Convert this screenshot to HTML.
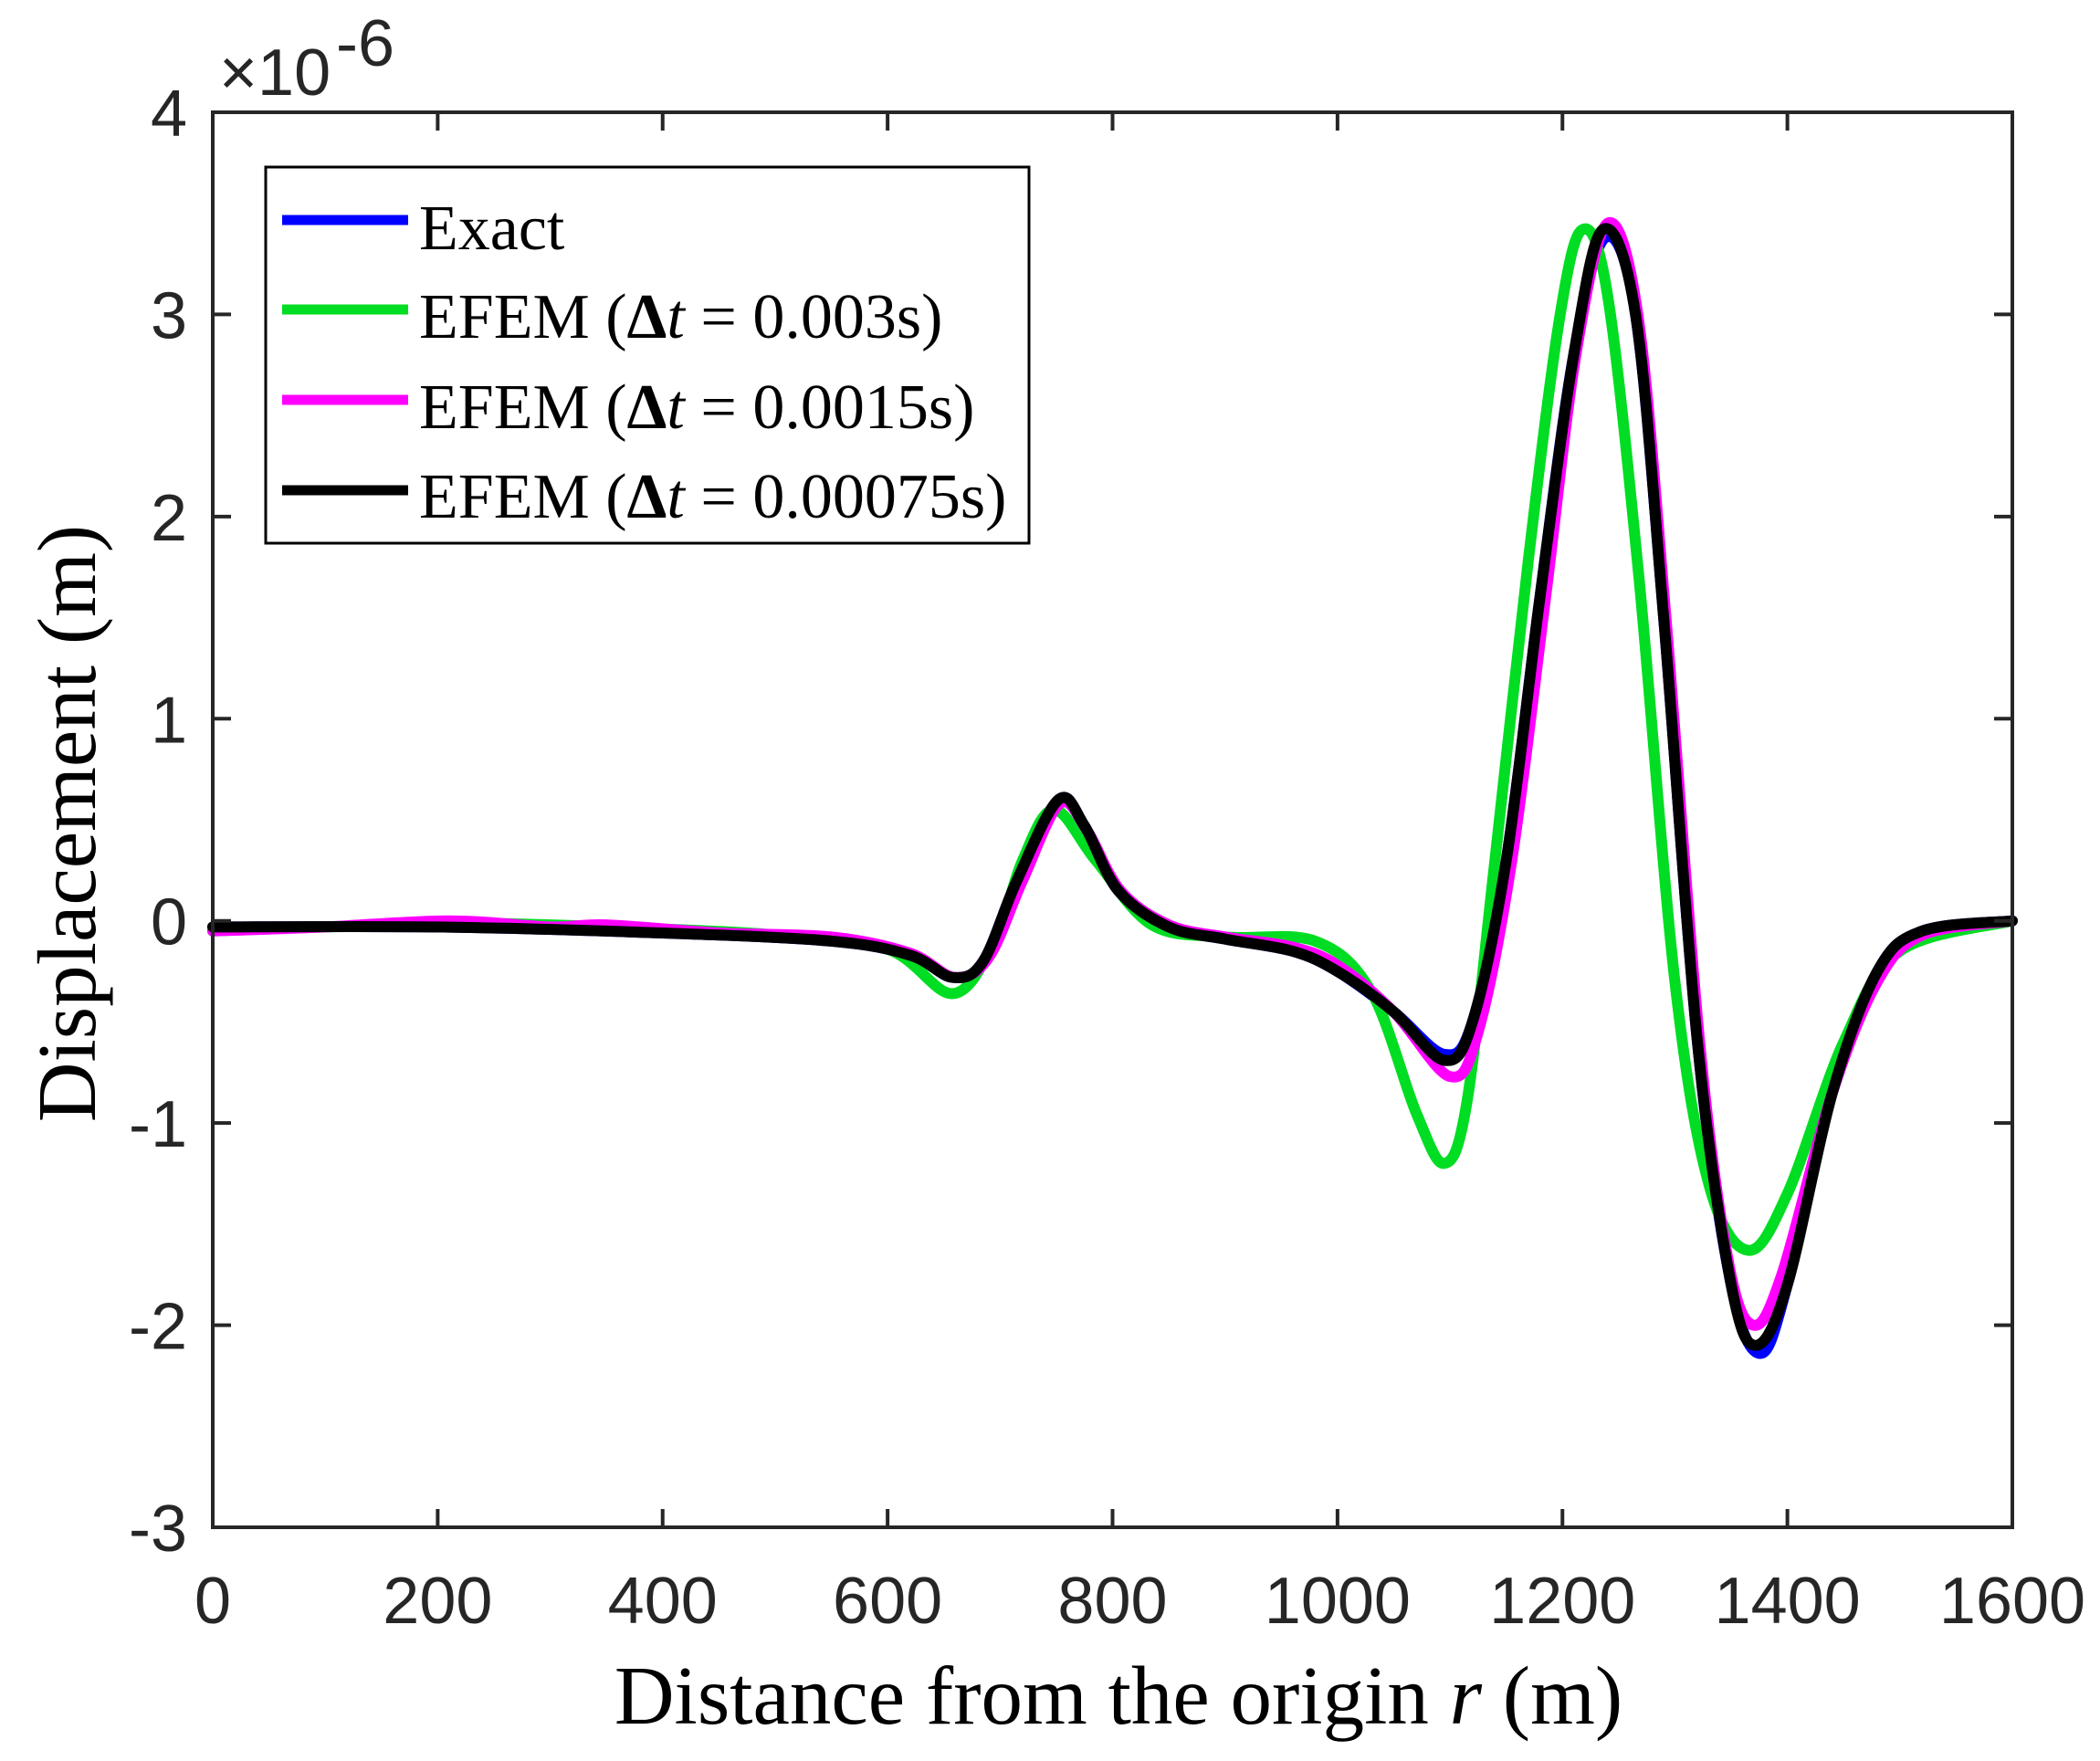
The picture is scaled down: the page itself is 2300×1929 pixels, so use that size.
<!DOCTYPE html>
<html><head><meta charset="utf-8"><style>
html,body{margin:0;padding:0;background:#fff;}
svg{display:block;}
.tk{font-family:"Liberation Sans",Arial,sans-serif;font-size:72px;fill:#262626;}
.tm{font-family:"Liberation Serif","Times New Roman",serif;fill:#000;}
</style></head><body>
<svg id="s" width="2300" height="1929" viewBox="0 0 2300 1929" xmlns="http://www.w3.org/2000/svg">
<rect width="2300" height="1929" fill="#fff"/>
<g id="curves" fill="none" stroke-linejoin="round" stroke-linecap="round"></g>
<g id="ax"></g>
<text class="tk" x="240" y="104" font-size="68">×10</text>
<text class="tk" x="368" y="72" font-size="62">-6</text>
<text class="tm" x="1225" y="1888" font-size="91" text-anchor="middle">Distance from the origin <tspan font-style="italic">r</tspan> (m)</text>
<text class="tm" transform="translate(104,902) rotate(-90)" font-size="91" text-anchor="middle">Displacement (m)</text>
<g>
<rect x="291" y="183" width="836" height="412" fill="#fff" stroke="#000" stroke-width="3"/>
<line x1="309" y1="241" x2="447" y2="241" stroke="#0000ff" stroke-width="11"/>
<line x1="309" y1="339" x2="447" y2="339" stroke="#00dd22" stroke-width="11"/>
<line x1="309" y1="438" x2="447" y2="438" stroke="#ff00ff" stroke-width="11"/>
<line x1="309" y1="537" x2="447" y2="537" stroke="#000" stroke-width="11"/>
<text class="tm" x="459" y="273" font-size="70">Exact</text>
<text class="tm" x="459" y="370" font-size="70">EFEM (<tspan font-weight="bold">Δ</tspan><tspan font-style="italic">t</tspan> = 0.003s)</text>
<text class="tm" x="459" y="469" font-size="70">EFEM (<tspan font-weight="bold">Δ</tspan><tspan font-style="italic">t</tspan> = 0.0015s)</text>
<text class="tm" x="459" y="567" font-size="70">EFEM (<tspan font-weight="bold">Δ</tspan><tspan font-style="italic">t</tspan> = 0.00075s)</text>
</g>
</svg>
<script>
var L=233,R=2204,T=123,B=1673;
function X(r){return L+r/1600*(R-L);}
function Y(u){return T+(4-u)/7*(B-T);}
function path(p){
 var P=p.map(function(a){return [X(a[0]),Y(a[1])];});
 var d="M"+P[0][0].toFixed(1)+","+P[0][1].toFixed(1);
 for(var i=0;i<P.length-1;i++){
  var p0=P[Math.max(0,i-1)],p1=P[i],p2=P[i+1],p3=P[Math.min(P.length-1,i+2)];
  var c1=[p1[0]+(p2[0]-p0[0])/6,p1[1]+(p2[1]-p0[1])/6];
  var c2=[p2[0]-(p3[0]-p1[0])/6,p2[1]-(p3[1]-p1[1])/6];
  d+=" C"+c1[0].toFixed(1)+","+c1[1].toFixed(1)+" "+c2[0].toFixed(1)+","+c2[1].toFixed(1)+" "+p2[0].toFixed(1)+","+p2[1].toFixed(1);
 }
 return d;
}
var exact=[[0,-0.03],[200,-0.03],[400,-0.06],[550,-0.1],[620,-0.17],[658,-0.28],[685,-0.2],[715,0.2],[752,0.6],[775,0.47],[805,0.15],[850,-0.03],[900,-0.09],[960,-0.15],[1000,-0.25],[1050,-0.45],[1095,-0.66],[1120,-0.5],[1150,0.3],[1180,1.6],[1210,2.8],[1238,3.38],[1265,3.0],[1290,1.5],[1320,-0.6],[1350,-1.8],[1376,-2.14],[1400,-1.8],[1440,-0.85],[1480,-0.25],[1520,-0.05],[1600,0]];
var black=exact.map(function(a){var b=[a[0],a[1]];if(a[0]==1095)b=[1095,-0.69];if(a[0]==1376)b=[1372,-2.1];if(a[0]==1238)b=[1236,3.42];return b;});
var mag=[[0,-0.05],[100,-0.03],[210,0.0],[300,-0.03],[350,-0.02],[450,-0.06],[550,-0.08],[620,-0.16],[660,-0.28],[690,-0.18],[720,0.2],[753,0.58],[777,0.45],[807,0.15],[850,-0.02],[900,-0.08],[960,-0.13],[1000,-0.22],[1050,-0.45],[1100,-0.77],[1125,-0.55],[1155,0.3],[1185,1.6],[1212,2.8],[1240,3.45],[1267,3.0],[1292,1.5],[1322,-0.6],[1348,-1.7],[1370,-2.0],[1395,-1.75],[1440,-0.85],[1480,-0.3],[1520,-0.07],[1600,0]];
var green=[[0,-0.05],[100,-0.03],[200,-0.01],[300,-0.02],[400,-0.04],[500,-0.07],[600,-0.14],[658,-0.36],[695,-0.1],[720,0.3],[748,0.55],[785,0.3],[835,-0.02],[900,-0.08],[980,-0.1],[1030,-0.35],[1070,-0.95],[1095,-1.2],[1115,-0.9],[1140,0.3],[1170,1.8],[1198,3.0],[1218,3.42],[1240,3.1],[1268,1.7],[1300,-0.3],[1330,-1.3],[1365,-1.63],[1400,-1.35],[1450,-0.6],[1500,-0.15],[1600,0]];
var g=document.getElementById("curves"),ns="http://www.w3.org/2000/svg";
[[exact,"#0000ff"],[green,"#00dd22"],[mag,"#ff00ff"],[black,"#000"]].forEach(function(c){
 var p=document.createElementNS(ns,"path");p.setAttribute("d",path(c[0]));p.setAttribute("stroke",c[1]);p.setAttribute("stroke-width","12");g.appendChild(p);
});
var ax=document.getElementById("ax"),h='<rect x="'+L+'" y="'+T+'" width="'+(R-L)+'" height="'+(B-T)+'" fill="none" stroke="#262626" stroke-width="4"/>';
for(var r=0;r<=1600;r+=200){var x=X(r);h+='<line x1="'+x+'" y1="'+B+'" x2="'+x+'" y2="'+(B-20)+'" stroke="#262626" stroke-width="4"/><line x1="'+x+'" y1="'+T+'" x2="'+x+'" y2="'+(T+20)+'" stroke="#262626" stroke-width="4"/>';
 h+='<text class="tk" x="'+x+'" y="1778" text-anchor="middle">'+r+'</text>';}
for(var u=-3;u<=4;u++){var y=Y(u);h+='<line x1="'+L+'" y1="'+y+'" x2="'+(L+20)+'" y2="'+y+'" stroke="#262626" stroke-width="4"/><line x1="'+R+'" y1="'+y+'" x2="'+(R-20)+'" y2="'+y+'" stroke="#262626" stroke-width="4"/>';
 h+='<text class="tk" x="205" y="'+(y+26)+'" text-anchor="end">'+u+'</text>';}
ax.innerHTML=h;
</script>
</body></html>
